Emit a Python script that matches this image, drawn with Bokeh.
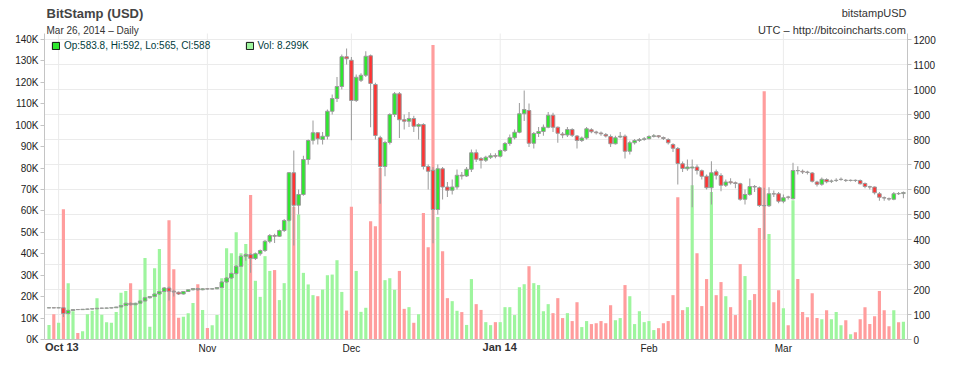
import pandas as pd
from bokeh.plotting import figure
from bokeh.models import (Range1d, LinearAxis, FixedTicker,
                          ColumnDataSource, Legend, LegendItem)
from bokeh.embed import file_html
from bokeh.resources import INLINE

# ---------------- data ----------------
dates = pd.date_range("2013-09-29", "2014-03-26", freq="D")

opens = [126.5, 127, 126.5, 127, 104, 116, 120, 119.5, 121, 122,
         123, 125, 125.5, 126, 127, 130, 136, 145, 139, 145,
         154, 167, 172, 182, 192, 206, 193, 189, 182, 192,
         199, 204, 199, 203, 202, 203, 208, 230, 246, 264,
         293, 333, 340, 324, 343, 356, 393, 416, 413, 436,
         477, 667, 537, 580, 720, 797, 827, 800, 813, 913,
         964, 1012, 1131, 1117, 956, 1037, 1057, 1135, 1020, 807,
         692, 788, 900, 983, 879, 873, 884, 853, 860, 692,
         677, 520, 683, 610, 597, 610, 657, 654, 681, 747,
         724, 717, 729, 736, 733, 756, 784, 807, 829, 903,
         916, 785, 824, 832, 849, 897, 849, 822, 818, 840,
         814, 796, 806, 839, 830, 826, 820, 812, 783, 810,
         813, 753, 787, 796, 800, 803, 812, 815, 808, 800,
         780, 764, 703, 683, 686, 690, 675, 653, 607, 671,
         656, 617, 631, 627, 623, 561, 580, 612, 607, 536,
         535, 583, 583, 553, 570, 563, 676, 673, 670, 666,
         630, 621, 640, 633, 636, 640, 637, 636, 637, 636,
         624, 611, 610, 583, 567, 563, 561, 584, 583.8]

highs = [128, 128.5, 128, 128, 120, 122, 121.5, 122, 123, 124,
         126, 127, 127, 128, 131, 138, 147, 148, 147, 156,
         170, 174, 185, 194, 210, 212, 200, 192, 194, 200,
         206, 207, 205, 206, 206, 210, 234, 250, 268, 298,
         338, 345, 345, 348, 360, 398, 422, 423, 440, 482,
         670, 756, 600, 735, 800, 876, 830, 830, 920, 980,
         1050, 1140, 1164, 1130, 1060, 1065, 1153, 1140, 1027, 815,
         795, 905, 990, 990, 900, 910, 895, 865, 865, 700,
         690, 700, 690, 630, 640, 680, 670, 690, 760, 760,
         730, 735, 745, 745, 760, 790, 820, 840, 946, 996,
         944, 830, 850, 860, 910, 907, 852, 830, 850, 845,
         818, 812, 850, 845, 835, 832, 826, 820, 815, 830,
         820, 795, 802, 806, 810, 817, 822, 818, 812, 805,
         785, 770, 712, 720, 720, 700, 680, 660, 713, 680,
         665, 640, 645, 632, 627, 600, 644, 618, 612, 607,
         609, 596, 590, 580, 575, 707, 693, 680, 675, 670,
         635, 648, 645, 640, 645, 648, 642, 640, 640, 640,
         628, 615, 612, 590, 572, 568, 590, 590, 592]

lows = [125, 125, 125.5, 90, 100, 114, 118, 118, 119, 120,
        121, 123, 124, 125, 126, 129, 135, 136, 138, 144,
        152, 164, 170, 178, 190, 156, 172, 178, 180, 190,
        196, 195, 197, 199, 200, 201, 206, 226, 242, 260,
        290, 315, 267, 318, 335, 350, 385, 386, 410, 430,
        472, 376, 500, 575, 700, 780, 780, 780, 800, 900,
        950, 1000, 1100, 797, 950, 1030, 1050, 849, 800, 543,
        653, 780, 890, 806, 840, 850, 830, 800, 680, 600,
        385, 500, 560, 570, 580, 600, 640, 650, 670, 710,
        684, 710, 722, 725, 728, 750, 775, 800, 825, 874,
        770, 764, 810, 815, 845, 830, 787, 805, 810, 810,
        764, 790, 800, 825, 820, 815, 808, 770, 780, 805,
        724, 740, 780, 790, 795, 800, 808, 805, 798, 780,
        750, 620, 670, 675, 529, 660, 640, 600, 540, 640,
        593, 610, 620, 605, 555, 540, 575, 590, 530, 399,
        530, 570, 545, 545, 560, 560, 660, 662, 660, 628,
        612, 615, 625, 626, 630, 635, 630, 632, 630, 620,
        605, 600, 580, 555, 555, 555, 557, 578, 565]

closes = [127, 126.5, 127, 104, 116, 120, 119.5, 121, 122, 123,
          125, 125.5, 126, 127, 130, 136, 145, 139, 145, 154,
          167, 172, 182, 192, 206, 193, 190, 182, 192, 199,
          204, 199, 203, 202, 203, 208, 230, 246, 264, 293,
          333, 340, 324, 343, 356, 393, 416, 413, 436, 476,
          667, 537, 580, 720, 796, 827, 803, 813, 913, 964,
          1012, 1131, 1123, 956, 1049, 1057, 1133, 1024, 816, 692,
          788, 900, 983, 879, 873, 884, 853, 860, 692, 673,
          520, 683, 610, 597, 610, 657, 654, 681, 747, 721,
          717, 729, 735, 733, 756, 784, 807, 829, 903, 920,
          785, 824, 832, 849, 897, 849, 825, 818, 840, 817,
          796, 806, 843, 831, 827, 823, 814, 783, 807, 813,
          753, 787, 796, 800, 803, 812, 815, 811, 804, 787,
          765, 704, 684, 690, 690, 676, 653, 607, 667, 657,
          617, 630, 627, 624, 561, 580, 612, 610, 536, 535,
          583, 582, 553, 567, 569, 676, 675, 670, 668, 633,
          621, 641, 631, 634, 637, 641, 636, 637, 636, 623,
          612, 610, 587, 569, 566, 562, 583, 583, 588]

volumes_k = [6.8, 11.8, 7.8, 60.8, 26.3, 13.2, 3.0, 3.9, 11.8, 13.4,
             19.3, 11.5, 8.1, 7.8, 12.8, 21.8, 22.6, 26.3, 16.3, 23.2,
             38.0, 5.9, 33.3, 42.2, 24.1, 55.7, 32.8, 10.1, 10.6, 12.3,
             17.0, 25.8, 13.8, 5.4, 6.7, 11.4, 28.6, 42.6, 40.3, 50.1,
             40.3, 44.6, 67.4, 27.4, 19.9, 38.9, 32.0, 32.4, 18.4, 26.3,
             58.3, 62.0, 58.3, 31.1, 25.7, 20.7, 20.2, 23.3, 30.0, 30.3,
             37.0, 22.2, 13.5, 61.9, 32.0, 12.9, 14.8, 55.2, 52.9, 80.0,
             27.7, 28.6, 23.2, 32.0, 14.3, 15.1, 7.8, 11.8, 59.0, 43.1,
             137.4, 57.2, 41.2, 19.3, 17.9, 13.4, 12.8, 6.8, 28.2, 16.5,
             13.8, 8.1, 6.7, 8.1, 8.1, 15.1, 15.1, 11.4, 24.4, 25.8,
             34.2, 26.3, 25.4, 13.2, 16.5, 12.3, 19.3, 10.0, 12.3, 8.6,
             17.4, 5.8, 8.6, 7.2, 7.6, 8.6, 7.6, 16.0, 9.0, 10.0,
             25.4, 20.2, 7.2, 13.2, 8.1, 8.6, 4.4, 5.3, 7.6, 8.6,
             20.7, 66.4, 13.7, 15.1, 72.0, 40.3, 15.6, 28.2, 68.8, 20.7,
             26.8, 20.2, 15.1, 11.4, 35.2, 29.6, 18.4, 21.2, 52.0, 115.9,
             49.2, 17.4, 23.0, 14.6, 6.7, 65.0, 28.2, 12.8, 10.4, 21.6,
             10.0, 9.5, 13.7, 9.5, 12.8, 6.7, 9.0, 2.5, 3.4, 9.5,
             15.1, 7.2, 10.9, 22.6, 13.7, 6.2, 13.7, 8.1, 8.299]

month_starts = ["2013-10-01", "2013-11-01", "2013-12-01",
                "2014-01-01", "2014-02-01", "2014-03-01"]
month_labels = ["Oct 13", "Nov", "Dec", "Jan 14", "Feb", "Mar"]
month_bold = [True, False, False, True, False, False]
volume_ticks_k = list(range(0, 141, 10))
price_ticks = list(range(0, 1201, 100))

# ---------------- style / layout ----------------
FONT = "Liberation Sans"
UP_BODY, DOWN_BODY = "#2ee82e", "#ff3333"
UP_VOL, DOWN_VOL = "#9ef59e", "#ff9d9d"
EDGE = "#9a9a9a"
GRID = "#ebebeb"
AXIS = "#c4c4c4"
TXT = "#222222"
DAY = 86400000

W, H = 957, 365
FL, FR = 44, 907          # frame left / right (canvas px)
FTOP, FBOT = 0, H         # frame spans the full height so header texts sit inside it
ZERO_Y, PLOT_TOP_Y = 339, 33   # canvas rows of value 0 and of the top of the value axes
PX_PER_USD = 0.25
PX_PER_KVOL = 300 / 140.0
X_START = pd.Timestamp("2013-09-28 01:30")
X_END = pd.Timestamp("2014-03-26 20:30")

price_lo, price_hi = -(FBOT - ZERO_Y) / PX_PER_USD, (ZERO_Y - FTOP) / PX_PER_USD
vol_lo, vol_hi = -(FBOT - ZERO_Y) / PX_PER_KVOL, (ZERO_Y - FTOP) / PX_PER_KVOL
price_axis_top = (ZERO_Y - PLOT_TOP_Y) / PX_PER_USD
vol_axis_top = (ZERO_Y - PLOT_TOP_Y) / PX_PER_KVOL

up = [c >= o for o, c in zip(opens, closes)]
src = ColumnDataSource(dict(
    date=dates, high=highs, low=lows,
    top=[max(o, c) for o, c in zip(opens, closes)],
    bottom=[min(o, c) for o, c in zip(opens, closes)],
    vol=volumes_k,
    body_color=[UP_BODY if u else DOWN_BODY for u in up],
    vol_color=[UP_VOL if u else DOWN_VOL for u in up],
))

p = figure(width=W, height=H, title=None, x_axis_type="datetime", y_axis_location="right",
           x_range=Range1d(X_START, X_END), y_range=Range1d(price_lo, price_hi),
           output_backend="svg", toolbar_location=None,
           min_border_left=FL, min_border_right=W - FR,
           min_border_top=FTOP, min_border_bottom=0)
p.extra_y_ranges = {"vol": Range1d(vol_lo, vol_hi)}
p.outline_line_color = None
p.background_fill_color = "white"
p.border_fill_color = "white"

month_ms = [pd.Timestamp(d).value // 10**6 for d in month_starts]

def x_px(ts):
    """canvas column of a timestamp, from the x range"""
    return FL + (pd.Timestamp(ts) - X_START) / (X_END - X_START) * (FR - FL)

def style_axis(ax):
    ax.axis_line_color = AXIS
    ax.major_tick_line_color = AXIS
    ax.minor_tick_out = 0
    ax.minor_tick_in = 0
    ax.major_tick_in = 0
    ax.major_label_text_font = FONT
    ax.major_label_text_font_size = "10px"
    ax.major_label_text_color = TXT

# x axis pinned at value 0
xax = p.xaxis[0]
xax.ticker = FixedTicker(ticks=month_ms)
xax.major_label_overrides = {ms: ("" if b else lab)
                             for ms, lab, b in zip(month_ms, month_labels, month_bold)}
style_axis(xax)
xax.major_tick_out = 0
xax.major_label_standoff = 3
xax.fixed_location = 0

pax = p.yaxis[0]
pax.ticker = FixedTicker(ticks=price_ticks)
pax.bounds = (0, price_axis_top)
style_axis(pax)
pax.major_tick_out = 4
pax.major_label_standoff = 2

vax = LinearAxis(y_range_name="vol", ticker=FixedTicker(ticks=volume_ticks_k),
                 major_label_overrides={v: f"{v}K" for v in volume_ticks_k},
                 bounds=(0, vol_axis_top))
style_axis(vax)
vax.major_tick_out = 4
vax.major_label_standoff = 2
p.add_layout(vax, "left")

p.xgrid.visible = False
p.ygrid[0].ticker = FixedTicker(ticks=price_ticks)
p.ygrid[0].grid_line_color = GRID

# vertical month grid lines, limited to the value area
p.segment(x0=[pd.Timestamp(d) for d in month_starts], x1=[pd.Timestamp(d) for d in month_starts],
          y0=0, y1=price_axis_top, line_color=GRID, line_width=1)

# glyphs
p.vbar(x="date", width=0.66 * DAY, top="vol", bottom=0, y_range_name="vol",
       fill_color="vol_color", line_color=None, source=src)
p.segment(x0="date", y0="low", x1="date", y1="high", line_color=EDGE, line_width=1, source=src)
p.vbar(x="date", width=0.74 * DAY, top="top", bottom="bottom", fill_color="body_color",
       line_color=EDGE, line_width=1, source=src)

nan = float("nan")

def key_renderer(fill, line):
    """renderer with no visible extent, used only for its legend key"""
    return p.vbar(x=[dates[-1]], top=[nan], bottom=[nan], width=DAY,
                  fill_color=fill, line_color=line)

def fmt(v):
    return f"{v:g}"

cand_text = f"Op:{fmt(opens[-1])}, Hi:{fmt(highs[-1])}, Lo:{fmt(lows[-1])}, Cl:{fmt(closes[-1])}"
vol_text = f"Vol: {volumes_k[-1]:.3f}K"

GLYPH, STANDOFF = 9, 4

def text_box(text, rend, text_left_px, mid_py, size_px, bold=False, color=TXT):
    box_h = round(size_px * 1.3)
    lg = Legend(items=[LegendItem(label=text, renderers=[rend])],
                location=(text_left_px - GLYPH - STANDOFF - FL, FBOT - (mid_py + box_h / 2)),
                orientation="horizontal",
                glyph_width=GLYPH, glyph_height=GLYPH, label_height=box_h,
                label_standoff=STANDOFF, padding=0, margin=0, spacing=0,
                border_line_color=None, background_fill_alpha=0,
                label_text_font=FONT, label_text_font_size=f"{size_px}px",
                label_text_font_style="bold" if bold else "normal",
                label_text_color=color)
    p.add_layout(lg)

# legend row for the last candle
text_box(cand_text, key_renderer(src.data["body_color"][-1], "#111111"), 64, 45.5, 10,
         color="#003c3c")
text_box(vol_text, key_renderer(src.data["vol_color"][-1], "#111111"), 257.5, 45.5, 10,
         color="#003c3c")

# header texts (right-hand ones placed from their approximate rendered widths)
text_box("BitStamp (USD)", key_renderer(None, None), 46.5, 13.0, 13, bold=True, color="#444444")
text_box("Mar 26, 2014 \u2013 Daily", key_renderer(None, None), 46.5, 30.8, 10, color="#333333")
text_box("bitstampUSD", key_renderer(None, None), 906.5 - 64.8, 12.8, 11, color="#333333")
text_box("UTC \u2013 http://bitcoincharts.com", key_renderer(None, None), 906 - 148.1, 29.6, 11,
         color="#333333")

# bold year-start month labels, centred on their tick (kept inside the frame's left edge)
bold_widths = {"Oct 13": 33.6, "Jan 14": 34.3}
for d, lab, b in zip(month_starts, month_labels, month_bold):
    if b:
        left = max(FL + 1, x_px(d) - bold_widths[lab] / 2)
        text_box(lab, key_renderer(None, None), left, 346.5, 11,
                 bold=True, color="#333333")

open("out.html", "w").write(file_html(p, INLINE))
